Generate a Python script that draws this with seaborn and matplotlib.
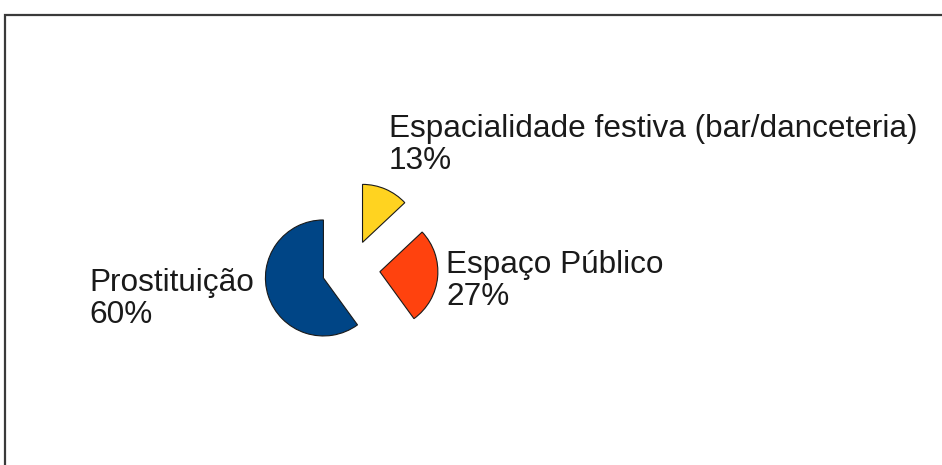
import numpy as np
import matplotlib
matplotlib.use("Agg")
import matplotlib.pyplot as plt
import matplotlib.patches as mpatches
import seaborn as sns

# ── Data ──────────────────────────────────────────────────────
categories = ["Espacialidade festiva (bar/danceteria)", "Espaço Público", "Prostituição"]
shares = [13, 27, 60]
colors = ["#FFD320", "#FF420E", "#004586"]

# ── Style ─────────────────────────────────────────────────────
sns.set_theme(style="white")
plt.rcParams['font.family'] = ['Liberation Sans', 'DejaVu Sans']

W, H = 942, 465
fig = plt.figure(figsize=(W / 100, H / 100), dpi=100)
fig.patch.set_facecolor("white")

# axes in pixel units (y up)
ax = fig.add_axes([0, 0, 1, 1])
radius = 58
center = (351, H - 269)
ax.pie(shares, colors=colors, startangle=90, counterclock=False,
       radius=radius, center=center, explode=[0.5 * radius] * len(shares),
       wedgeprops=dict(edgecolor="#1a1a1a", linewidth=0.8))
ax.set_xlim(0, W)
ax.set_ylim(0, H)
ax.set_aspect("equal")
ax.axis("off")

# labels (name + percentage)
label_pos = [(389, 114), (446, 250), (89, 268)]
for name, val, (lx, ly) in zip(categories, shares, label_pos):
    ax.text(lx, H - ly, f"{name}\n{val}%", ha="left", va="top",
            fontsize=22.7, color="#1a1a1a", linespacing=1.1)

# frame around chart area (cropped on right/bottom)
frame = mpatches.Rectangle((5 / W, -0.1), 1.2, (H - 15) / H + 0.1,
                           transform=fig.transFigure, fill=False,
                           edgecolor="#3a3a3a", linewidth=1.6)
fig.patches.append(frame)

fig.savefig("out.png", dpi=100)
